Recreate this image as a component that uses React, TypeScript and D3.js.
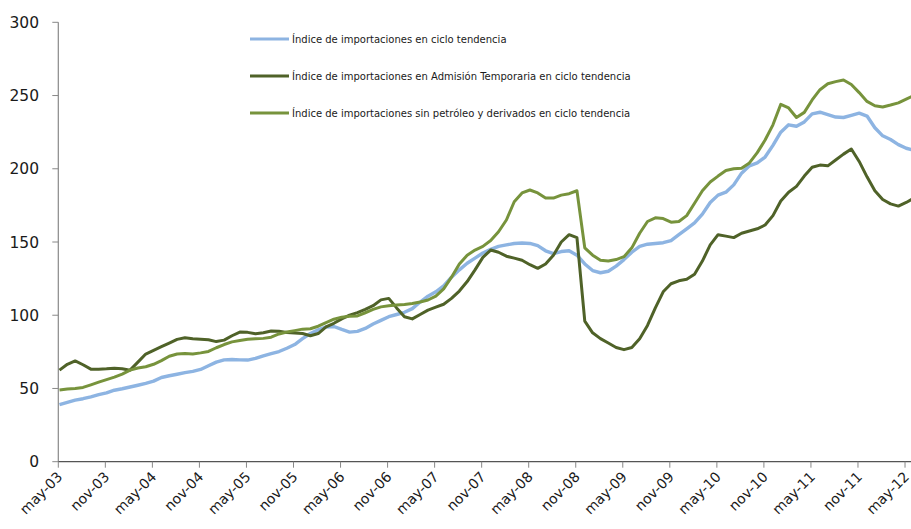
import React from "react";
import * as d3 from "d3";

const tickLabels = ["may-03","nov-03","may-04","nov-04","may-05","nov-05","may-06","nov-06","may-07","nov-07","may-08","nov-08","may-09","nov-09","may-10","nov-10","may-11","nov-11","may-12"];
const yTicks = [0, 50, 100, 150, 200, 250, 300];

// monthly values, may-03 .. jun-12
const importaciones = [
  39,40.5,42,43,44.3,45.8,47,48.8,49.8,51,52.2,53.5,55,57.5,58.7,59.7,60.8,61.7,63,65.5,
  68,69.5,69.8,69.5,69.4,70.5,72.3,73.8,75.2,77.5,80,84,87.5,90,92,92.3,90.3,88.5,89,91,
  94,96.5,99,100.5,102,104.5,109,113,116,120,126,131,135.5,139,142.5,145,147,148,149,149.3,
  149,147.5,144,142,143.5,144,141,135,130.5,129,130,133.5,138,143,147,148.5,149,149.5,151,155,
  159,163,169,177,182,184,189,197,202,204,208,216,225,230,229,232,237.5,238.6,237,235.3,
  235,236.5,238,236,228,222.5,220,216.5,214,212.5
];
const admisionTemporaria = [
  62.5,66.5,68.8,66.2,63.2,63.2,63.4,63.8,63.5,62.5,68,73.5,76,78.5,81,83.5,84.6,84,83.6,83.3,
  82,83,86,88.5,88.3,87.4,88,89.2,89,88.2,87.8,87.5,86,87.5,92,94.5,97.5,100,101.8,104,
  106.5,110.5,111.5,105,99,97.5,100.5,103.5,105.5,107.5,111.5,116.5,123,131,139.5,144.5,143,140.3,139,137.5,
  134.5,132,135,141,150,155,153,96,88,84,81,78,76.5,78,84,93,105,116,121.5,123.5,
  124.5,128,137,148,155,154,153,156,157.5,159,161.6,168,178,184,188,195,201,202.5,202,206,
  210,213.5,205,194.5,185,179,176,174.5,177,180
];
const sinPetroleo = [
  49,49.7,50,50.7,52.5,54.3,56,57.7,59.8,62.5,64,64.8,66.5,69,72,73.5,73.8,73.5,74.3,75.3,
  77.8,80,81.8,82.8,83.6,84,84.2,85,87.2,88.5,89.5,90.5,90.8,92.5,95,97.3,98.7,99.3,99.5,101.7,
  104,105.7,106.4,107,107.4,108,109,110.4,113,118,126,135,141,144.5,147,151,157,165,177.5,183.5,
  185.5,183.5,180,180,182,183,185,146,141,137.5,137,138,140,146,156,164,166.5,166,163.5,164,
  168,176.5,185,191,195,198.8,200,200.3,204,211,219.6,230,244,241.5,235,238.5,247,254,258,259.5,
  260.6,257.5,252,246,243,242.2,243.5,245,247.5,250
];

const seriesNames = [
  "Índice de importaciones en ciclo tendencia",
  "Índice de importaciones en Admisión Temporaria en ciclo tendencia",
  "Índice de importaciones sin petróleo y derivados en ciclo tendencia",
];
const seriesColors = ["#8DB4E2", "#4F6228", "#77933C"];
const seriesWidths = [3.4, 3, 3];

export default function App() {
  const W = 911, H = 529;
  const x0 = 59.5, dx = 7.84;
  const n = importaciones.length;
  const x = d3.scaleLinear().domain([0, n - 1]).range([x0, x0 + dx * (n - 1)]);
  const y = d3.scaleLinear().domain([0, 300]).range([461.7, 22.3]);
  const line = d3.line<number>().x((_, i) => x(i)).y((d) => y(d));
  const data = [importaciones, admisionTemporaria, sinPetroleo];
  const font = "'DejaVu Sans', Verdana, sans-serif";
  const axisColor = "#888888";
  const axisX = 58.3;

  return (
    <div style={{ position: "absolute", left: 0, top: 0 }}>
      <svg width={W} height={H} style={{ display: "block", background: "#fff" }}>
        {/* y axis */}
        <line x1={axisX} x2={axisX} y1={y(300)} y2={y(0)} stroke={axisColor} strokeWidth={1.2} />
        {yTicks.map((t) => (
          <g key={t}>
            <line x1={axisX - 6} x2={axisX} y1={y(t)} y2={y(t)} stroke={axisColor} strokeWidth={1} />
            <text x={39} y={y(t)} dy="0.36em" textAnchor="end" fontFamily={font} fontSize={15.5} fill="#1a1a1a">{t}</text>
          </g>
        ))}
        {/* x axis */}
        <line x1={axisX} x2={W} y1={y(0)} y2={y(0)} stroke="#555" strokeWidth={1.2} />
        {tickLabels.map((lab, k) => {
          const xi = x(k * 6) - 1.2;
          return (
            <g key={lab + k}>
              <line x1={xi} x2={xi} y1={y(0)} y2={y(0) + 6} stroke={axisColor} strokeWidth={1} />
              <text transform={`translate(${xi + 5},${y(0) + 16}) rotate(-45)`} textAnchor="end" fontFamily={font} fontSize={14} fill="#1a1a1a">{lab}</text>
            </g>
          );
        })}
        {/* lines */}
        {data.map((d, i) => (
          <path key={i} d={line(d) || ""} fill="none" stroke={seriesColors[i]} strokeWidth={seriesWidths[i]} strokeLinejoin="round" />
        ))}
        {/* legend */}
        {seriesNames.map((name, i) => {
          const ly = 39 + i * 37;
          return (
            <g key={name}>
              <line x1={250} x2={289} y1={ly} y2={ly} stroke={seriesColors[i]} strokeWidth={3} />
              <text x={292} y={ly} dy="0.35em" fontFamily={font} fontSize={10} fill="#1a1a1a">{name}</text>
            </g>
          );
        })}
      </svg>
    </div>
  );
}
